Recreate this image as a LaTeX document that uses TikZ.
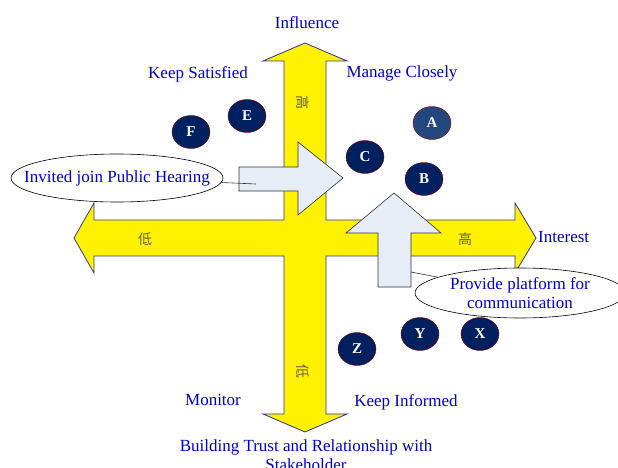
\documentclass[tikz,border=0pt]{standalone}
\usepackage{fontspec}
\setmainfont{Liberation Serif}
\newfontfamily\cjk{Noto Sans CJK TC}
\usetikzlibrary{shapes.geometric}
\definecolor{axisline}{RGB}{51,51,153}
\definecolor{lbl}{RGB}{0,0,204}
\definecolor{navy}{RGB}{0,32,96}
\definecolor{steel}{RGB}{36,72,125}
\definecolor{rim}{RGB}{128,0,0}
\definecolor{pale}{RGB}{230,237,247}
\definecolor{hanzi}{RGB}{100,100,50}

\begin{document}
\begin{tikzpicture}[x=1pt,y=-1pt,
	txt/.style={text=lbl,font=\fontsize{17}{19.5}\selectfont,inner sep=0,align=center},
	hz/.style={text=hanzi,font=\cjk\fontsize{14}{14}\selectfont,inner sep=0},
	stake/.style={draw=rim,fill=navy,ellipse,inner sep=0,minimum width=38pt,minimum height=33pt,text=white,font=\bfseries\fontsize{15}{15}\selectfont},
	callout/.style={draw,fill=white,ellipse,inner sep=0,line width=0.6pt},
	blockarrow/.style={draw=black!80,fill=pale,line width=0.6pt}]
	\useasboundingbox (0,0) rectangle (618,468);
	% the two axes
	\draw[draw=axisline,fill=yellow,line width=0.8pt] (305,43) -- (347,61) -- (326,61) -- (326,220) -- (515,220) -- (515,203) -- (536,238) -- (515,273) -- (515,256) -- (326,256) -- (326,414) -- (347,414) -- (305,432) -- (263,414) -- (284,414) -- (284,256) -- (94,256) -- (94,273) -- (74,238) -- (94,203) -- (94,220) -- (284,220) -- (284,61) -- (263,61) -- cycle;
	\node[hz,rotate=-90] (hi1) at (303,103) {高};
	\node[hz,rotate=-90] (lo1) at (303,371) {低};
	\node[hz] (lo2) at (145,239) {低};
	\node[hz] (hi2) at (465,239) {高};
	% block arrows
	\draw[blockarrow] (239,167) -- (298,167) -- (298,142) -- (343,178) -- (298,215) -- (298,191) -- (239,191) -- cycle;
	\draw[blockarrow] (394,193) -- (441,233) -- (411,233) -- (411,287) -- (378,287) -- (378,233) -- (346,233) -- cycle;
	% callouts
	\node[callout,minimum width=212pt,minimum height=48pt] (invited) at (117,178) {};
	\node[txt] at (invited) {Invited join Public Hearing};
	\node[callout,minimum width=210pt,minimum height=50pt] (platform) at (520,293) {};
	\node[txt] at (platform) {Provide platform for\\communication};
	\coordinate (hearing) at (256,184);
	\coordinate (upshaft) at (411,272);
	\draw[black!80,line width=0.6pt] (invited) -- (hearing);
	\draw[black!80,line width=0.6pt] (platform) -- (upshaft);
	% stakeholders
	\node[stake,fill=steel] (A) at (432,123) {A};
	\node[stake] (B) at (424,179) {B};
	\node[stake] (C) at (365,157) {C};
	\node[stake] (E) at (247,116) {E};
	\node[stake] (F) at (191,132) {F};
	\node[stake] (X) at (480,334) {X};
	\node[stake] (Y) at (420,334) {Y};
	\node[stake] (Z) at (357,349) {Z};
	% labels
	\node[txt] (influence) at (307,23) {Influence};
	\node[txt,anchor=west] (interest) at (538,237) {Interest};
	\node[txt] (satisfied) at (198,74) {Keep Satisfied};
	\node[txt] (closely) at (402,73) {Manage Closely};
	\node[txt] (monitor) at (213,400) {Monitor};
	\node[txt] (informed) at (406,402) {Keep Informed};
	\node[txt] (trust) at (306,455) {Building Trust and Relationship with\\Stakeholder};
\end{tikzpicture}
\end{document}
